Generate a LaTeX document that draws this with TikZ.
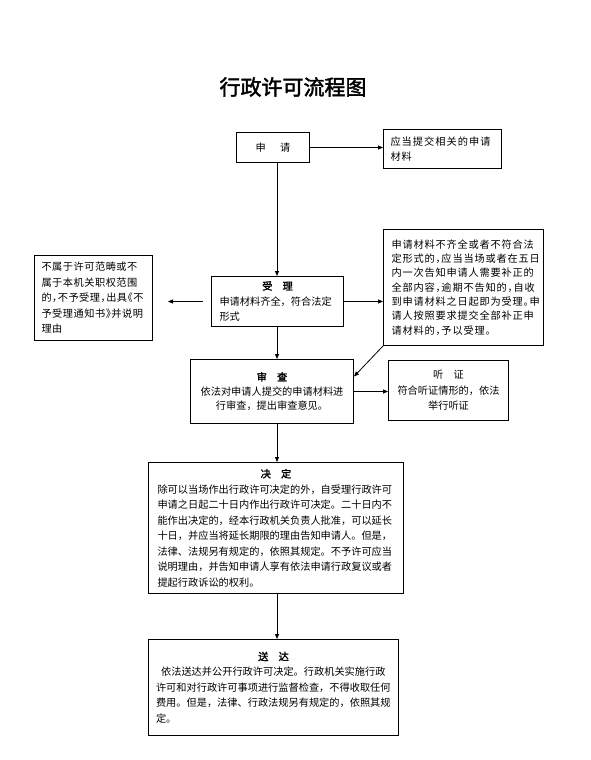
\documentclass[tikz,border=0pt]{standalone}
\usepackage{fontspec}
\setmainfont{Noto Sans CJK SC}[AutoFakeBold=2]
\newfontfamily\halfpunct{Noto Sans CJK SC}[RawFeature=+halt,LetterSpace=5]
\newfontfamily\widecjk{Noto Sans CJK SC}[LetterSpace=10]
\newfontfamily\widehalf{Noto Sans CJK SC}[RawFeature=+halt,LetterSpace=8]
\usetikzlibrary{arrows.meta}
\newcommand\boxhead[1]{\hbox to\hsize{\hfil\bfseries#1\hfil}}

\begin{document}
\begin{tikzpicture}[x=1pt,y=-1pt,
box/.style={%
draw,
line width=1pt,
anchor=north west,
inner xsep=8pt,
inner ysep=2pt,
align=left,
font=\fontsize{10.2}{15.5}\selectfont,
},
cbox/.style={%
box,
align=center,
},
arr/.style={%
-{Triangle[length=5pt,width=4pt]},
line width=0.8pt,
},
title/.style={%
font=\fontsize{21}{25}\selectfont\bfseries,
},
]
\useasboundingbox (0,0) rectangle (590,760);
\coordinate (spine) at (277,0);
%% Title
\node[title] (title) at (293,87) {行政许可流程图};
%% Apply
\node[cbox,minimum width=73pt,minimum height=30pt,text width=57pt] (shenqing) at (236,132) {申\hspace{1.4em}请};
\node[box,inner xsep=7pt,minimum width=118pt,minimum height=39pt,text width=104pt,font=\widecjk\fontsize{10.2}{15.5}\selectfont] (cailiao) at (383,129) {应当提交相关的申请\\材料};
%% Accept
\node[box,minimum width=132pt,minimum height=50pt,text width=116pt] (shouli) at (211,276) {\boxhead{受\hspace{1em}理}\\申请材料齐全，符合法定\\形式};
\node[box,inner xsep=7pt,minimum width=118pt,minimum height=85pt,text width=104pt,font=\halfpunct\fontsize{10.2}{15.5}\selectfont] (bushu) at (34,255) {不属于许可范畴或不\\属于本机关职权范围\\的，不予受理，出具《不\\予受理通知书》并说明\\理由};
\node[box,minimum width=160pt,minimum height=116pt,text width=144pt,font=\widehalf\fontsize{10.2}{14.3}\selectfont] (buqi) at (383,229) {申请材料不齐全或者不符合法\\定形式的，应当当场或者在五日\\内一次告知申请人需要补正的\\全部内容，逾期不告知的，自收\\到申请材料之日起即为受理。申\\请人按照要求提交全部补正申\\请材料的，予以受理。};
%% Review
\node[cbox,minimum width=163pt,minimum height=64pt,text width=147pt,font=\fontsize{10.2}{14.5}\selectfont] (shencha) at (190,359) {\textbf{审\hspace{1em}查}\\依法对申请人提交的申请材料进\\行审查，提出审查意见。};
\node[cbox,minimum width=120pt,minimum height=60pt,text width=104pt] (tingzheng) at (388,360) {听\hspace{1em}证\\符合听证情形的，依法\\举行听证};
%% Decide
\node[box,inner xsep=9pt,minimum width=255pt,minimum height=131pt,text width=237pt] (jueding) at (148,462) {\boxhead{决\hspace{1em}定}\\除可以当场作出行政许可决定的外，自受理行政许可\\申请之日起二十日内作出行政许可决定。二十日内不\\能作出决定的，经本行政机关负责人批准，可以延长\\十日，并应当将延长期限的理由告知申请人。但是，\\法律、法规另有规定的，依照其规定。不予许可应当\\说明理由，并告知申请人享有依法申请行政复议或者\\提起行政诉讼的权利。};
%% Deliver
\node[box,inner xsep=7.5pt,minimum width=250pt,minimum height=96pt,text width=235pt] (songda) at (148,639) {\boxhead{送\hspace{1em}达}\\\hspace*{0.5em}依法送达并公开行政许可决定。行政机关实施行政\\许可和对行政许可事项进行监督检查，不得收取任何\\费用。但是，法律、行政法规另有规定的，依照其规\\定。};
%% Arrows
\draw[arr] (shenqing.east) -- (shenqing.east -| cailiao.west);
\draw[arr] (spine |- shenqing.south) -- (spine |- shouli.north);
\draw[arr,shorten <=8pt,shorten >=15pt] (shouli.west) -- (shouli.west -| bushu.east);
\draw[arr] (shouli.east) -- (shouli.east -| buqi.west);
\draw[arr] (spine |- shouli.south) -- (spine |- shencha.north);
\draw[arr] (buqi.south west) -- ([yshift=15pt]shencha.east);
\draw[arr] (shencha.east) -- (shencha.east -| tingzheng.west);
\draw[arr] (spine |- shencha.south) -- (spine |- jueding.north);
\draw[arr] (spine |- jueding.south) -- (spine |- songda.north);
\end{tikzpicture}
\end{document}
